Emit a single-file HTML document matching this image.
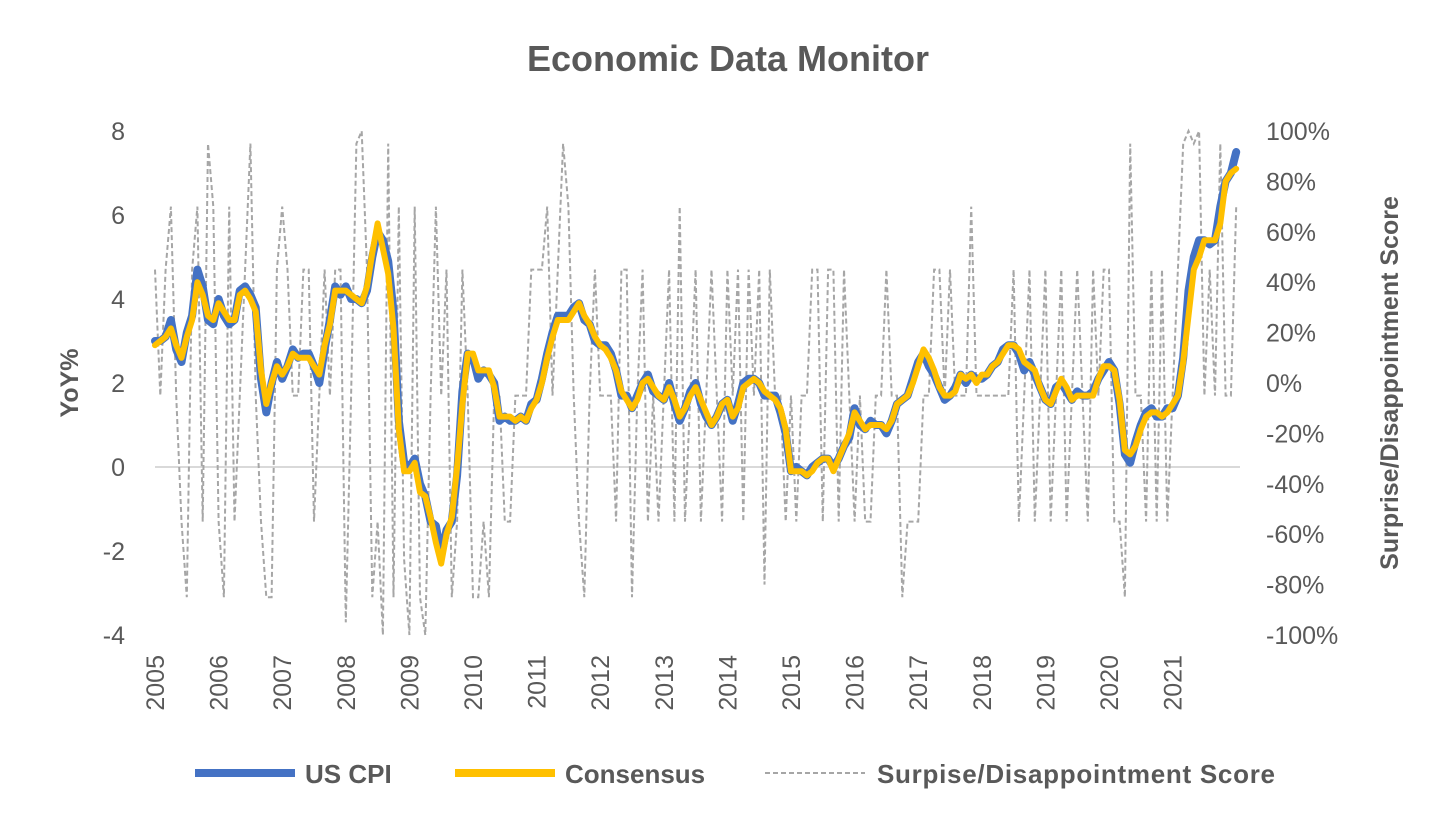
<!DOCTYPE html>
<html><head><meta charset="utf-8"><style>
body{margin:0;background:#fff;}
svg{display:block;font-family:"Liberation Sans",Arial,sans-serif;}
</style></head><body>
<svg id="chart" width="1456" height="829">
<text x="728" y="71" text-anchor="middle" font-size="36" font-weight="bold" fill="#595959">Economic Data Monitor</text>
<g id="axes"></g>
<g id="series"></g>
<g>
<line x1="195" y1="773" x2="295" y2="773" stroke="#4472C4" stroke-width="8"/>
<text x="305" y="783" font-size="26" font-weight="bold" fill="#595959">US CPI</text>
<line x1="455" y1="773" x2="555" y2="773" stroke="#FFC000" stroke-width="8"/>
<text x="565" y="783" font-size="26" font-weight="bold" fill="#595959">Consensus</text>
<line x1="765" y1="773" x2="865" y2="773" stroke="#a6a6a6" stroke-width="2" stroke-dasharray="5,3"/>
<text x="877" y="783" font-size="26" font-weight="bold" fill="#595959" textLength="398">Surpise/Disappointment Score</text>
</g>
</svg>
<script>
const yearLabels=["2005","2006","2007","2008","2009","2010","2011","2012","2013","2014","2015","2016","2017","2018","2019","2020","2021"];
const leftTicks=[8,6,4,2,0,-2,-4];
const rightTicks=[100,80,60,40,20,0,-20,-40,-60,-80,-100];
const cpi=[3.0,3.0,3.1,3.5,2.8,2.5,3.2,3.6,4.7,4.3,3.5,3.4,
4.0,3.6,3.4,3.5,4.2,4.3,4.1,3.8,2.1,1.3,2.0,2.5,
2.1,2.4,2.8,2.6,2.7,2.7,2.4,2.0,2.8,3.5,4.3,4.1,
4.3,4.0,4.0,3.9,4.2,5.0,5.6,5.4,4.9,3.7,1.1,0.1,
0.0,0.2,-0.4,-0.7,-1.3,-1.4,-2.1,-1.5,-1.3,-0.2,1.8,2.7,
2.6,2.1,2.3,2.2,2.0,1.1,1.2,1.1,1.1,1.2,1.1,1.5,
1.6,2.1,2.7,3.2,3.6,3.6,3.6,3.8,3.9,3.5,3.4,3.0,
2.9,2.9,2.7,2.3,1.7,1.7,1.4,1.7,2.0,2.2,1.8,1.7,
1.6,2.0,1.5,1.1,1.4,1.8,2.0,1.5,1.2,1.0,1.2,1.5,
1.6,1.1,1.5,2.0,2.1,2.1,2.0,1.7,1.7,1.7,1.3,0.8,
-0.1,0.0,-0.1,-0.2,0.0,0.1,0.2,0.2,0.0,0.2,0.5,0.7,
1.4,1.0,0.9,1.1,1.0,1.0,0.8,1.1,1.5,1.6,1.7,2.1,
2.5,2.7,2.4,2.2,1.9,1.6,1.7,1.9,2.2,2.0,2.2,2.1,
2.1,2.2,2.4,2.5,2.8,2.9,2.9,2.7,2.3,2.5,2.2,1.9,
1.6,1.5,1.9,2.0,1.8,1.6,1.8,1.7,1.7,1.8,2.1,2.3,
2.5,2.3,1.5,0.3,0.1,0.6,1.0,1.3,1.4,1.2,1.2,1.4,
1.4,1.7,2.6,4.2,5.0,5.4,5.4,5.3,5.4,6.2,6.8,7.0,7.5];
const consensus=[2.9,3.0,3.1,3.3,2.9,2.6,3.1,3.5,4.4,4.1,3.6,3.5,
3.9,3.7,3.5,3.5,4.1,4.2,4.0,3.7,2.3,1.5,2.0,2.4,
2.2,2.4,2.7,2.6,2.6,2.6,2.4,2.2,2.9,3.4,4.2,4.2,
4.2,4.1,4.0,3.9,4.3,5.1,5.8,5.2,4.6,3.3,0.9,-0.1,
-0.1,0.1,-0.6,-0.7,-1.2,-1.8,-2.3,-1.6,-1.2,0.0,1.5,2.7,
2.7,2.3,2.3,2.3,1.9,1.2,1.2,1.2,1.1,1.2,1.1,1.4,
1.6,2.0,2.6,3.1,3.5,3.5,3.5,3.7,3.9,3.6,3.4,3.1,
2.9,2.8,2.6,2.3,1.8,1.6,1.4,1.6,2.0,2.1,1.9,1.7,
1.6,1.9,1.6,1.2,1.4,1.7,1.9,1.6,1.3,1.0,1.2,1.5,
1.6,1.2,1.4,1.9,2.0,2.1,2.0,1.8,1.7,1.6,1.4,0.9,
-0.1,-0.1,-0.1,-0.2,-0.1,0.1,0.2,0.2,-0.1,0.2,0.5,0.8,
1.3,1.1,0.9,1.0,1.0,1.0,0.9,1.1,1.5,1.6,1.7,2.0,
2.4,2.8,2.6,2.3,1.9,1.7,1.7,1.8,2.2,2.1,2.2,2.0,
2.2,2.2,2.4,2.5,2.7,2.9,2.9,2.8,2.5,2.4,2.3,1.9,
1.6,1.5,1.8,2.1,1.9,1.6,1.7,1.7,1.7,1.7,2.1,2.4,
2.4,2.3,1.6,0.4,0.3,0.5,0.9,1.2,1.3,1.3,1.2,1.3,
1.5,1.7,2.5,3.6,4.7,5.0,5.4,5.4,5.4,5.8,6.8,7.0,7.1];
const score=[45,-5,45,70,-5,-55,-85,45,70,-55,95,70,
-55,-85,70,-55,-5,45,95,-5,-55,-85,-85,45,
70,45,-5,-5,45,45,-55,-5,45,-5,45,45,
-95,-5,95,100,45,-85,-55,-100,95,-85,70,-70,
-100,70,-85,-100,-5,70,-5,45,-85,-55,45,-5,
-85,-85,-55,-85,-5,-5,-55,-55,-5,-5,-5,45,
45,45,70,-5,45,95,70,-5,-55,-85,-5,45,
-5,-5,-5,-55,45,45,-85,-5,45,-55,-5,-55,
-5,45,-55,70,-55,-5,45,-55,-5,45,-5,-55,
45,-5,45,-55,45,-5,45,-80,45,-5,-5,-55,
-5,-55,-5,-5,45,45,-55,45,45,-55,45,-5,
-55,-5,-55,-55,-5,-5,45,-5,-5,-85,-55,-55,
-55,-5,-5,45,45,-5,45,-5,-5,-5,70,-5,
-5,-5,-5,-5,-5,-5,45,-55,-5,45,-55,-5,
45,-55,-5,45,-55,-5,45,-5,-55,45,-5,45,
45,-55,-55,-85,95,-5,-5,-55,45,-55,45,-55,
-5,45,95,100,95,100,-5,45,-5,95,-5,-5,70];

const NS="http://www.w3.org/2000/svg";
const X0=155, YEARW=63.6;
function xPos(i){return X0+i*YEARW/12;}
function yLeft(v){return 467-v*42;}
function yRight(p){return 383-p*2.52;}
function mk(tag,attrs,parent){const e=document.createElementNS(NS,tag);for(const k in attrs)e.setAttribute(k,attrs[k]);parent.appendChild(e);return e;}
const axes=document.getElementById('axes');
const series=document.getElementById('series');

const zl=mk('line',{x1:X0,y1:yLeft(0),x2:1240,y2:yLeft(0),stroke:'#d9d9d9','stroke-width':2},axes);


leftTicks.forEach(v=>{
  const t=mk('text',{x:125,y:yLeft(v)+9,'text-anchor':'end','font-size':25,fill:'#595959'},axes);
  t.textContent=v;
  
  
});
rightTicks.forEach(v=>{
  const t=mk('text',{x:1266,y:yRight(v)+9,'font-size':25,fill:'#595959'},axes);
  t.textContent=v+'%';
  
  
});
yearLabels.forEach((y,i)=>{
  const x=X0+i*YEARW;
  const t=mk('text',{x:0,y:0,transform:`translate(${x+9},655) rotate(-90)`,'text-anchor':'end','font-size':25,fill:'#595959'},axes);
  t.textContent=y;
  
  
});
const lt=mk('text',{x:0,y:0,transform:'translate(78,383) rotate(-90)','text-anchor':'middle','font-size':25,'font-weight':'bold',fill:'#595959'},axes);
lt.textContent='YoY%';


const rt=mk('text',{x:0,y:0,transform:'translate(1398,383) rotate(-90)','text-anchor':'middle','font-size':25,'font-weight':'bold',fill:'#595959'},axes);
rt.textContent='Surprise/Disappointment Score';



function path(arr,yf){return arr.map((v,i)=>(i?'L':'M')+xPos(i).toFixed(1)+','+yf(v).toFixed(1)).join(' ');}
const sp=mk('path',{d:path(score,yRight),fill:'none',stroke:'#a6a6a6','stroke-width':2,'stroke-dasharray':'5,3'},series);


const cp=mk('path',{d:path(cpi,yLeft),fill:'none',stroke:'#4472C4','stroke-width':8,'stroke-linejoin':'round','stroke-linecap':'round'},series);


const cn=mk('path',{d:path(consensus,yLeft),fill:'none',stroke:'#FFC000','stroke-width':6,'stroke-linejoin':'round','stroke-linecap':'round'},series);


</script>
</body></html>
